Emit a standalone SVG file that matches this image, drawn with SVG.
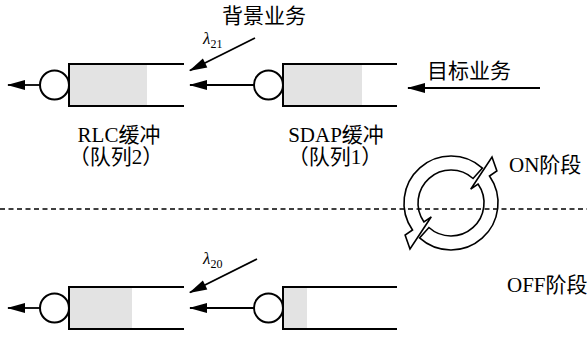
<svg xmlns="http://www.w3.org/2000/svg" width="587" height="338" viewBox="0 0 587 338">
<style>
.box{fill:none;stroke:#000;stroke-width:2}
.fill{fill:#e3e3e3}
.srv{fill:#fff;stroke:#000;stroke-width:2}
.conn{stroke:#000;stroke-width:1.8;fill:none;marker-end:url(#ah)}
.t{font-family:"Liberation Serif","Noto Sans CJK SC",serif;font-size:21px;fill:#000}
.lam{font-family:"Liberation Serif",serif;font-size:17px;font-style:italic;fill:#000}
.sub{font-size:12px;font-style:normal}
.cyc{fill:#fff;stroke:#000;stroke-width:1.6;stroke-linejoin:miter}
</style>
<defs>
<marker id="ah" markerUnits="userSpaceOnUse" markerWidth="18" markerHeight="10" refX="17" refY="5" orient="auto" overflow="visible">
<path d="M0,0 L18,5 L0,10 Z" fill="#000"/>
</marker>
</defs>
<rect width="587" height="338" fill="#fff"/>

<g id="rlc-top">
<rect class="fill" x="69" y="64" width="78" height="42"/>
<path class="box" d="M184,64 H69 V106 H184"/>
<circle class="srv" cx="54.5" cy="85" r="14.5"/>
<text class="t" x="119" y="142" text-anchor="middle">RLC缓冲</text>
<text class="t" x="116" y="164" text-anchor="middle">（队列2）</text>
</g>

<g id="sdap-top">
<rect class="fill" x="283" y="64" width="79" height="42"/>
<path class="box" d="M397,64 H283 V106 H397"/>
<circle class="srv" cx="268.5" cy="85" r="14.5"/>
<text class="t" x="336" y="142" text-anchor="middle">SDAP缓冲</text>
<text class="t" x="335" y="164" text-anchor="middle">（队列1）</text>
</g>

<g id="rlc-bottom">
<rect class="fill" x="69" y="287" width="63" height="42"/>
<path class="box" d="M184,287 H69 V329 H184"/>
<circle class="srv" cx="54.5" cy="308" r="14.5"/>
</g>

<g id="sdap-bottom">
<rect class="fill" x="283" y="287" width="24" height="42"/>
<path class="box" d="M397,287 H283 V329 H397"/>
<circle class="srv" cx="268.5" cy="308" r="14.5"/>
</g>

<g id="labels">
<text class="t" x="264" y="23" text-anchor="middle">背景业务</text>
<text class="t" x="469" y="78" text-anchor="middle">目标业务</text>
<text class="lam" x="203" y="44">λ<tspan class="sub" dy="4">21</tspan></text>
<text class="lam" x="203" y="264">λ<tspan class="sub" dy="4">20</tspan></text>
<text class="t" x="509" y="172">ON阶段</text>
<text class="t" x="507" y="292">OFF阶段</text>
</g>

<g id="cycle">
<path class="cyc" d="M482.45,168.07 A47,47 0 0 0 412.50,229.96 L405.1,235.1 L410,249 L431.3,216.8 L423.97,221.93 A33,33 0 0 1 473.08,178.48 Z"/>
<path class="cyc" d="M419.55,237.93 A47,47 0 0 0 489.50,176.04 L496.9,170.9 L492,157 L470.7,189.2 L478.03,184.07 A33,33 0 0 1 428.92,227.52 Z"/>
</g>

<g id="connectors">
<line class="conn" x1="40" y1="85" x2="8" y2="85"/>
<line class="conn" x1="254" y1="85" x2="190" y2="85"/>
<line class="conn" x1="540" y1="88" x2="408" y2="88"/>
<line class="conn" x1="255" y1="38" x2="189.9" y2="70.55"/>
<line class="conn" x1="40" y1="308" x2="8" y2="308"/>
<line class="conn" x1="254" y1="308" x2="190" y2="308"/>
<line class="conn" x1="257" y1="259" x2="189.9" y2="292.55"/>
<line x1="0" y1="209" x2="587" y2="209" stroke="#000" stroke-width="1.5" stroke-dasharray="5 3.5"/>
</g>
</svg>
